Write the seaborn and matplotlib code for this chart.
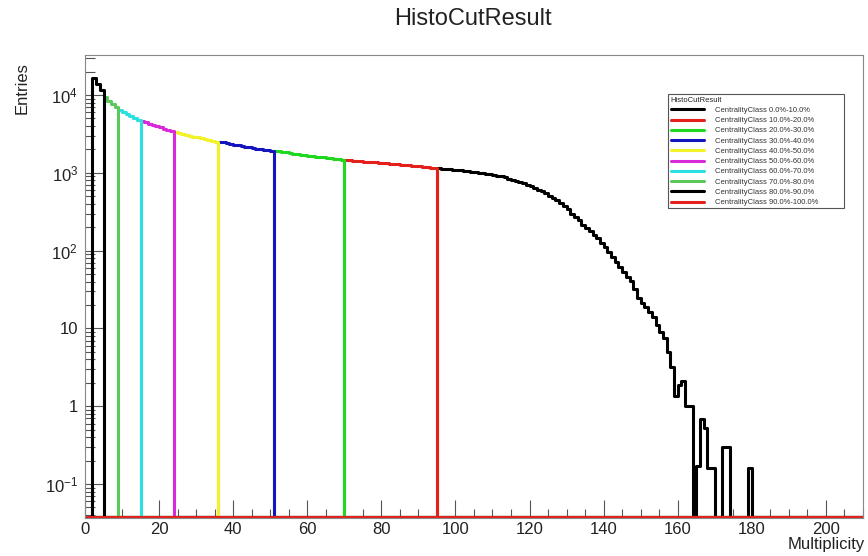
import numpy as np
import pandas as pd
import matplotlib
matplotlib.use("Agg")
import matplotlib.pyplot as plt
import seaborn as sns
from matplotlib.lines import Line2D
from matplotlib.ticker import FixedLocator, FixedFormatter, MultipleLocator, LogLocator, NullFormatter

sns.set_theme(style="white")
plt.rcParams["font.family"] = ["Liberation Sans", "DejaVu Sans"]
plt.rcParams["mathtext.fontset"] = "custom"
plt.rcParams["mathtext.rm"] = "Liberation Sans"
plt.rcParams["mathtext.it"] = "Liberation Sans:italic"

# ---------------- data ----------------
title = "HistoCutResult"
x_label = "Multiplicity"
y_label = "Entries"
n_bins = 210  # multiplicity bins of width 1, 0..210

class_labels = [
    "CentralityClass 0.0%-10.0%",
    "CentralityClass 10.0%-20.0%",
    "CentralityClass 20.0%-30.0%",
    "CentralityClass 30.0%-40.0%",
    "CentralityClass 40.0%-50.0%",
    "CentralityClass 50.0%-60.0%",
    "CentralityClass 60.0%-70.0%",
    "CentralityClass 70.0%-80.0%",
    "CentralityClass 80.0%-90.0%",
    "CentralityClass 90.0%-100.0%",
]
class_colors = ["#000000", "#e3201b", "#1fd81f", "#1515c0", "#f2f22a",
                "#d82ad8", "#2ae0e0", "#5cc85c", "#000000", "#e3201b"]
# first multiplicity bin of each class
class_first_bin = [95, 70, 51, 36, 24, 15, 9, 5, 2, 0]

counts_0_10 = [1140, 1125, 1115, 1105, 1095, 1085, 1080, 1070, 1055, 1040,
               1020, 1005, 990, 975, 955, 940, 925, 900, 875, 845,
               815, 790, 760, 735, 705, 675, 645, 610, 580, 545,
               510, 480, 445, 410, 375, 340, 300, 270, 245, 215,
               198, 178, 160, 144, 125, 110, 96, 84, 72, 61,
               53, 46, 41, 32, 25, 21, 19, 16.5, 14, 11,
               9, 7.5, 5, 3.2, 1.35, 1.9, 2.1, 1.0, 1.0, 0,
               0.17, 0.68, 0.52, 0.16, 0.16, 0, 0, 0.3, 0.3, 0,
               0, 0, 0, 0, 0.16]
counts_10_20 = [1460, 1450, 1435, 1420, 1410, 1395, 1385, 1370, 1360, 1350,
                1335, 1320, 1310, 1295, 1285, 1270, 1260, 1245, 1235, 1220,
                1210, 1195, 1185, 1170, 1160]
counts_20_30 = [1920, 1890, 1860, 1830, 1800, 1770, 1740, 1720, 1700, 1670,
                1650, 1620, 1600, 1580, 1560, 1540, 1520, 1500, 1480]
counts_30_40 = [2520, 2470, 2420, 2360, 2310, 2260, 2210, 2170, 2130, 2090,
                2050, 2020, 1990, 1960, 1935]
counts_40_50 = [3350, 3250, 3170, 3090, 3000, 2920, 2850, 2780, 2710, 2640,
                2570, 2500]
counts_50_60 = [4600, 4450, 4300, 4150, 4000, 3850, 3700, 3560, 3440]
counts_60_70 = [6500, 6100, 5700, 5350, 5050, 4800]
counts_70_80 = [9400, 8500, 7700, 7000]
counts_80_90 = [16800, 13800, 11500]
counts_90_100 = [0, 0]

class_counts = [counts_0_10, counts_10_20, counts_20_30, counts_30_40, counts_40_50,
                counts_50_60, counts_60_70, counts_70_80, counts_80_90, counts_90_100]

x_ticks = list(range(0, 201, 20))
y_ticks = [0.1, 1, 10, 100, 1000, 10000]
y_tick_labels = [r"$10^{-1}$", "1", "10", r"$10^{2}$", r"$10^{3}$", r"$10^{4}$"]

# ---------------- plot ----------------
y_min, y_max = 0.0366, 3.27e4
floor = y_min * 1.035

fig = plt.figure(figsize=(8.68, 5.56), dpi=100)
ax = fig.add_axes([0.0979, 0.0683, 0.8963, 0.8327])
ax.set_yscale("log")

centers = np.arange(n_bins) + 0.5
for counts, first, col in zip(class_counts, class_first_bin, class_colors):
    full = np.zeros(n_bins)
    full[first:first + len(counts)] = counts
    df = pd.DataFrame({"mult": centers, "w": np.where(full > 0, full, floor)})
    sns.histplot(data=df, x="mult", weights="w", binwidth=1, binrange=(0, n_bins),
                 element="step", fill=False, color=col, linewidth=2.2, ax=ax)

ax.set_xlim(0, n_bins)
ax.set_ylim(y_min, y_max)
ax.set_xlabel("")
ax.set_ylabel("")

ax.xaxis.set_major_locator(FixedLocator(x_ticks))
ax.xaxis.set_minor_locator(MultipleLocator(5))
ax.yaxis.set_major_locator(FixedLocator(y_ticks))
ax.yaxis.set_major_formatter(FixedFormatter(y_tick_labels))
ax.yaxis.set_minor_locator(LogLocator(base=10, subs=np.arange(2, 10)))
ax.yaxis.set_minor_formatter(NullFormatter())

ax.tick_params(axis="both", which="both", direction="in", bottom=True, left=True,
               top=False, right=False, color="#555555", width=0.8,
               labelcolor="#222222", labelsize=12)
ax.tick_params(axis="x", which="major", length=13, pad=3)
ax.tick_params(axis="x", which="minor", length=6.5)
ax.tick_params(axis="y", which="major", length=13, pad=5)
ax.tick_params(axis="y", which="minor", length=7)

for sp in ax.spines.values():
    sp.set_color("#888888")
    sp.set_linewidth(0.8)

fig.text(0.545, 0.966, title, ha="center", va="center", fontsize=17, color="#222222")
fig.text(0.025, 0.888, y_label, rotation=90, ha="center", va="top", fontsize=12, color="#222222")
fig.text(0.9965, 0.02, x_label, ha="right", va="center", fontsize=12, color="#222222")

handles = [Line2D([0], [0], color=c, lw=2.2) for c in class_colors]
leg = ax.legend(handles, class_labels, title=title, loc="upper left",
                bbox_to_anchor=(0.75, 0.915, 0.226, 0), mode="expand",
                fontsize=5.5, title_fontsize=5.5, alignment="left",
                frameon=True, fancybox=False, edgecolor="#555555", framealpha=1,
                handlelength=4.3, borderpad=0.3, labelspacing=0.38,
                handletextpad=1.5, borderaxespad=0)
leg.get_frame().set_linewidth(0.8)
for t in leg.get_texts():
    t.set_color("#333333")

fig.savefig("out.png", dpi=100)
